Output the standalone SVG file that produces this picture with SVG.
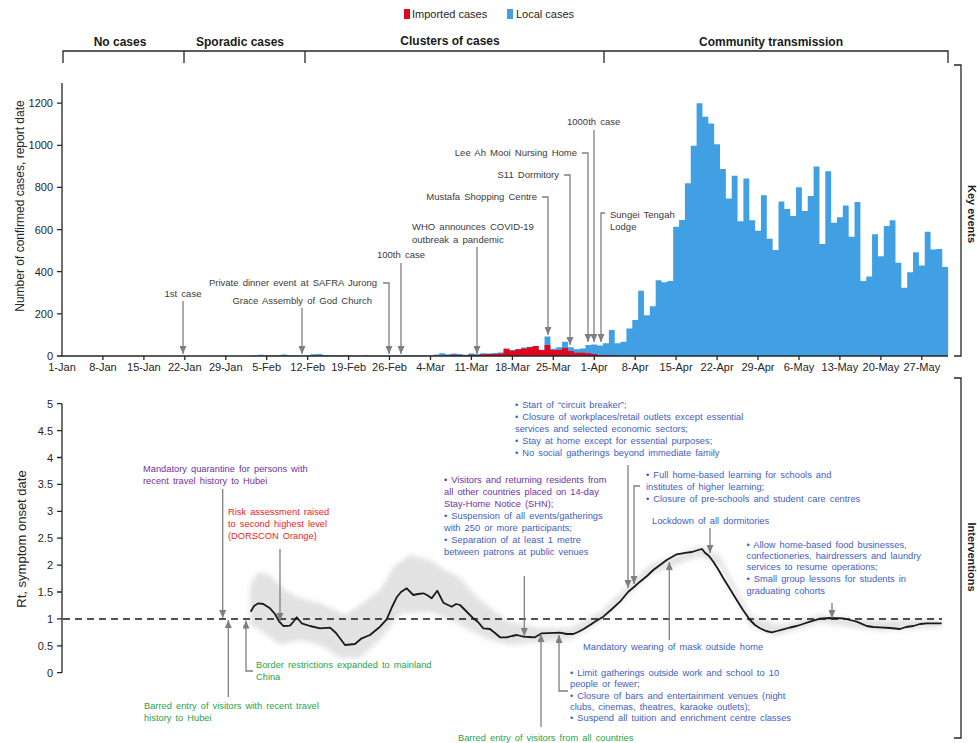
<svg xmlns="http://www.w3.org/2000/svg" width="977" height="743" viewBox="0 0 977 743">
  <defs>
    <marker id="ah" viewBox="0 0 8 7" refX="8" refY="3.5" markerWidth="8" markerHeight="7" markerUnits="userSpaceOnUse" orient="auto">
      <path d="M0,0 L8,3.5 L0,7 z" fill="#7f7f7f"/>
    </marker>
    <filter id="soft" x="-10%" y="-30%" width="120%" height="160%">
      <feGaussianBlur stdDeviation="2.5"/>
    </filter>
    <style>
      text { font-family: "Liberation Sans", Arial, sans-serif; }
      .tick { font-size: 11px; fill: #262626; }
      .axl { font-size: 12px; fill: #262626; }
      .phase { font-size: 12px; font-weight: bold; fill: #1a1a1a; }
      .side { font-size: 11px; font-weight: bold; fill: #1a1a1a; }
      .ann { font-size: 9.5px; fill: #3a3a3a; word-spacing: 1.5px; }
      .b { font-size: 9.3px; }
      .pur { fill: #7030a0; }
      .red { fill: #ee1c25; }
      .grn { fill: #1fa34a; }
      .blu { fill: #4160c0; }
      .axis { stroke: #262626; stroke-width: 1.3; fill: none; }
      .arr { stroke: #7f7f7f; stroke-width: 1.3; fill: none; marker-end: url(#ah); }
    </style>
  </defs>
  <rect width="977" height="743" fill="#ffffff"/>

  <!-- legend -->
  <g id="legend">
    <rect x="404" y="9" width="6" height="10" fill="#e3051b"/>
    <text x="412" y="18" class="tick">Imported cases</text>
    <rect x="507" y="9" width="6" height="10" fill="#41a0e4"/>
    <text x="516" y="18" class="tick">Local cases</text>
  </g>

  <!-- epidemic phases -->
  <g id="phases">
    <path class="axis" d="M63,63 V51 H948 V63 M184,51 V63 M305,51 V63 M604,51 V63"/>
    <text x="120" y="46" class="phase" text-anchor="middle">No cases</text>
    <text x="240" y="46" class="phase" text-anchor="middle">Sporadic cases</text>
    <text x="450" y="45" class="phase" text-anchor="middle">Clusters of cases</text>
    <text x="771" y="46" class="phase" text-anchor="middle">Community transmission</text>
  </g>

  <!-- side brackets -->
  <g id="brackets">
    <path class="axis" d="M954,65 H961 V356 H954"/>
    <text class="side" transform="translate(968,214) rotate(90)" text-anchor="middle">Key events</text>
    <path class="axis" d="M954,378 H961 V738 H954"/>
    <text class="side" transform="translate(968,557) rotate(90)" text-anchor="middle">Interventions</text>
  </g>

  <!-- daily cases chart -->
  <g id="cases-chart">
    <g transform="translate(59.0755,356) scale(5.849,-0.2107)">
      <path fill="#41a0e4" d="M33,0V2H34V6H35V4H36V2H37V3H38V7H39V3H40V3H41V2H42V3H43V8H44V9H45V5H46V3H47V2H48V4H49V3H50V1H51V1H52V3H53V1H54V1H55V1H56V2H57V3H58V2H59V4H60V4H61V2H62V2H63V2H64V7H65V13H66V8H67V12H68V10H69V6H70V12H71V9H72V13H73V12H74V14H75V17H76V35H77V28H78V32H79V40H80V44H81V47H82V30H83V92H84V35H85V41H86V68H87V41H88V32H89V36H90V52H91V55H92V50H93V60H94V123H95V60H96V68H97V130H98V171H99V310H100V193H101V236H102V359H103V350H104V356H105V614H106V646H107V820H108V998H109V1199H110V1136H111V1104H112V1005H113V888H114V747H115V856H116V639H117V843H118V644H119V595H120V763H121V557H122V503H123V733H124V698H125V665H126V801H127V688H128V759H129V899H130V532H131V877H132V633H133V658H134V714H135V566H136V731H137V356H138V377H139V578H140V473H141V617H142V644H143V443H144V324H145V397H146V492H147V429H148V590H149V505H150V508H151V422H152V0Z"/>
      <path fill="#e3051b" d="M66,0V4H67V6H68V5H69V3H70V6H71V5H72V8H73V9H74V10H75V12H76V35H77V25H78V32H79V36H80V41H81V47H82V28H83V52H84V28H85V28H86V38H87V24H88V16H89V16H90V13H91V9H92V5H93V4H94V2H95V1H96V0Z"/>
    </g>
    <path class="axis" d="M62,83 V356 H948"/>
    <path class="axis" d="M57,356H62 M57,313.9H62 M57,271.7H62 M57,229.6H62 M57,187.4H62 M57,145.3H62 M57,103.2H62"/>
    <path class="axis" d="M102.9,356V360 M143.9,356V360 M184.8,356V360 M225.8,356V360 M266.7,356V360 M307.7,356V360 M348.6,356V360 M389.5,356V360 M430.5,356V360 M471.4,356V360 M512.4,356V360 M553.3,356V360 M594.3,356V360 M635.2,356V360 M676.1,356V360 M717.1,356V360 M758,356V360 M799,356V360 M839.9,356V360 M880.9,356V360 M921.8,356V360"/>
    <g class="tick" text-anchor="end">
      <text x="53" y="360">0</text>
      <text x="53" y="317.9">200</text>
      <text x="53" y="275.7">400</text>
      <text x="53" y="233.6">600</text>
      <text x="53" y="191.4">800</text>
      <text x="53" y="149.3">1000</text>
      <text x="53" y="107.2">1200</text>
    </g>
    <g class="tick" text-anchor="middle">
      <text x="62" y="371">1-Jan</text>
      <text x="102.9" y="371">8-Jan</text>
      <text x="143.9" y="371">15-Jan</text>
      <text x="184.8" y="371">22-Jan</text>
      <text x="225.8" y="371">29-Jan</text>
      <text x="266.7" y="371">5-Feb</text>
      <text x="307.7" y="371">12-Feb</text>
      <text x="348.6" y="371">19-Feb</text>
      <text x="389.5" y="371">26-Feb</text>
      <text x="430.5" y="371">4-Mar</text>
      <text x="471.4" y="371">11-Mar</text>
      <text x="512.4" y="371">18-Mar</text>
      <text x="553.3" y="371">25-Mar</text>
      <text x="594.3" y="371">1-Apr</text>
      <text x="635.2" y="371">8-Apr</text>
      <text x="676.1" y="371">15-Apr</text>
      <text x="717.1" y="371">22-Apr</text>
      <text x="758" y="371">29-Apr</text>
      <text x="799" y="371">6-May</text>
      <text x="839.9" y="371">13-May</text>
      <text x="880.9" y="371">20-May</text>
      <text x="921.8" y="371">27-May</text>
    </g>
    <text class="axl" transform="translate(24,206) rotate(-90)" text-anchor="middle">Number of confirmed cases, report date</text>
  </g>

  <!-- key event labels -->
  <g id="key-events" class="ann">
    <text x="183" y="297" text-anchor="middle">1st case</text>
    <text x="377" y="286" text-anchor="end">Private dinner event at SAFRA Jurong</text>
    <text x="372" y="304" text-anchor="end">Grace Assembly of God Church</text>
    <text x="401" y="258" text-anchor="middle">100th case</text>
    <text x="412" y="230">WHO announces COVID-19</text>
    <text x="412" y="243">outbreak a pandemic</text>
    <text x="537" y="200" text-anchor="end">Mustafa Shopping Centre</text>
    <text x="559" y="178" text-anchor="end">S11 Dormitory</text>
    <text x="577" y="156" text-anchor="end">Lee Ah Mooi Nursing Home</text>
    <text x="567" y="125">1000th case</text>
    <text x="610" y="218">Sungei Tengah</text>
    <text x="610" y="230">Lodge</text>
  </g>

  <!-- Rt chart -->
  <g id="rt-chart">
    <path fill="#e2e2e2" filter="url(#soft)" d="M250,585 L258,572 L270,575 L285,590 L300,598 L320,603 L345,615 L360,605 L380,590 L395,565 L410,555 L430,560 L445,570 L460,578 L475,595 L490,608 L510,622 L540,628 L570,628 L600,612 L650,565 L700,546 L720,556 L750,615 L780,625 L820,615 L860,620 L942,620 L942,627 L880,631 L820,623 L775,636 L750,626 L720,566 L700,556 L650,575 L600,622 L570,640 L540,642 L510,645 L490,640 L470,630 L450,620 L430,612 L400,614 L380,640 L360,658 L340,658 L320,645 L300,640 L280,645 L260,630 L250,625 Z"/>
    <path class="axis" d="M62,403.7 V672.7"/>
    <path class="axis" d="M57,403.7H62 M57,430.6H62 M57,457.5H62 M57,484.4H62 M57,511.3H62 M57,538.2H62 M57,565.1H62 M57,592H62 M57,618.9H62 M57,645.8H62 M57,672.7H62"/>
    <g class="tick" text-anchor="end">
      <text x="53" y="407.7">5</text>
      <text x="53" y="434.6">4.5</text>
      <text x="53" y="461.5">4</text>
      <text x="53" y="488.4">3.5</text>
      <text x="53" y="515.3">3</text>
      <text x="53" y="542.2">2.5</text>
      <text x="53" y="569.1">2</text>
      <text x="53" y="596">1.5</text>
      <text x="53" y="622.9">1</text>
      <text x="53" y="649.8">0.5</text>
      <text x="53" y="676.7">0</text>
    </g>
    <text class="axl" style="font-size:13px" transform="translate(26,539) rotate(-90)" text-anchor="middle">Rt, symptom onset date</text>
    <line x1="63" y1="619" x2="942" y2="619" stroke="#1a1a1a" stroke-width="1.3" stroke-dasharray="7,5"/>
    <polyline fill="none" stroke="#1a1a1a" stroke-width="1.8" stroke-linejoin="round" points="250.7,611.7 254,606 258.3,603.3 263.3,604 270,608.3 275,614 279.3,621.7 283.3,626 290,625.7 294,621 296.7,617.3 299,620 301.7,623.3 310,626 320,628.3 330,627.7 336,633 345,645 355,644 361.7,638.3 370,635 380,626.7 386.7,619.3 392,607 396.7,597.3 401,592 406.7,588.3 413.3,595 418,594 423.3,593.3 427,595 431.7,598.3 437.3,590.7 443.3,602.7 451.7,606.7 456,604 460,605 466,611 473.3,618.3 478,622 483.3,628.3 490,629 495,633 500,637.3 506.7,637.3 512,636 516.7,635 523.3,636.7 529,637 535,637.3 541.7,633.3 560,632.7 566.7,634 573.3,634 578,632 583.3,629.3 590,625 596,621 603.3,616.7 612,609 620,601.7 628.3,591.7 634,587 640,581.7 647,576 653.3,570 660,565 666.7,560 676.7,554.3 686.7,552.7 692,552 698.3,550 702,549 705,552.7 709,556 713.3,561.7 718,569 723.3,578.3 730,589 736.7,600 743,610 750,620 755,625 760,628.3 766,631 771.7,632.3 777,631 783.3,629.3 790,627.5 796.7,626 803,624 810,621.7 820,618.7 830,618 843.3,618.3 850,620 856.7,621.7 866.7,626 873,627 880,627.3 890,628 900,629 906,627 913.3,626 920,624 926.7,623.3 941.7,623.3"/>
  </g>

  <!-- intervention labels -->
  <g id="interventions" class="ann b">
    <text class="pur" x="143" y="472">Mandatory quarantine for persons with</text>
    <text class="pur" x="143" y="484">recent travel history to Hubei</text>
    <text class="red" x="228" y="515">Risk assessment raised</text>
    <text class="red" x="228" y="527">to second highest level</text>
    <text class="red" x="228" y="539">(DORSCON Orange)</text>
    <text class="grn" x="144" y="709">Barred entry of visitors with recent travel</text>
    <text class="grn" x="144" y="720.5">history to Hubei</text>
    <text class="grn" x="256" y="668">Border restrictions expanded to mainland</text>
    <text class="grn" x="256" y="680">China</text>
    <text class="pur" x="444" y="483.3">• Visitors and returning residents from</text>
    <text class="pur" x="444" y="495.2">all other countries placed on 14-day</text>
    <text class="pur" x="444" y="507.1">Stay-Home Notice (SHN);</text>
    <text class="blu" x="444" y="519">• Suspension of all events/gatherings</text>
    <text class="blu" x="444" y="530.9">with 250 or more participants;</text>
    <text class="blu" x="444" y="542.8">• Separation of at least 1 metre</text>
    <text class="blu" x="444" y="554.7">between patrons at public venues</text>
    <text class="grn" x="458" y="741">Barred entry of visitors from all countries</text>
    <text class="blu" x="570" y="676">• Limit gatherings outside work and school to 10</text>
    <text class="blu" x="570" y="687.3">people or fewer;</text>
    <text class="blu" x="570" y="698.6">• Closure of bars and entertainment venues (night</text>
    <text class="blu" x="570" y="709.9">clubs, cinemas, theatres, karaoke outlets);</text>
    <text class="blu" x="570" y="721.2">• Suspend all tuition and enrichment centre classes</text>
    <text class="blu" x="583" y="650">Mandatory wearing of mask outside home</text>
    <text class="blu" x="515" y="408.3">• Start of “circuit breaker”;</text>
    <text class="blu" x="515" y="420.1">• Closure of workplaces/retail outlets except essential</text>
    <text class="blu" x="515" y="431.9">services and selected economic sectors;</text>
    <text class="blu" x="515" y="443.7">• Stay at home except for essential purposes;</text>
    <text class="blu" x="515" y="455.5">• No social gatherings beyond immediate family</text>
    <text class="blu" x="646" y="478.3">• Full home-based learning for schools and</text>
    <text class="blu" x="646" y="490">institutes of higher learning;</text>
    <text class="blu" x="646" y="501.7">• Closure of pre-schools and student care centres</text>
    <text class="blu" x="652" y="524.3">Lockdown of all dormitories</text>
    <text class="blu" x="746.5" y="547.5">• Allow home-based food businesses,</text>
    <text class="blu" x="746.5" y="558.8">confectioneries, hairdressers and laundry</text>
    <text class="blu" x="746.5" y="570.1">services to resume operations;</text>
    <text class="blu" x="746.5" y="582.3">• Small group lessons for students in</text>
    <text class="blu" x="746.5" y="593.6">graduating cohorts</text>
  </g>

  <!-- pointer arrows -->
  <g id="connectors">
    <polyline class="arr" points="183,301 183,354"/>
    <polyline class="arr" points="383,283 389,283 389,354"/>
    <polyline class="arr" points="302,308 302,354"/>
    <polyline class="arr" points="401,263 401,354"/>
    <polyline class="arr" points="477,247 477,354"/>
    <polyline class="arr" points="542,197 548,197 548,335"/>
    <polyline class="arr" points="564,175 570,175 570,345"/>
    <polyline class="arr" points="582,153 588,153 588,342"/>
    <polyline class="arr" points="594,130 594,342"/>
    <polyline class="arr" points="605,213 601,213 601,342"/>

    <polyline class="arr" points="222.7,489 222.7,618"/>
    <polyline class="arr" points="280,549 280,621"/>
    <polyline class="arr" points="228.3,697 228.3,620"/>
    <polyline class="arr" points="253,671 246,671 246,620.5"/>
    <polyline class="arr" points="524.3,576 524.3,636"/>
    <polyline class="arr" points="541,727 541,634"/>
    <polyline class="arr" points="568,691 559,691 559,635"/>
    <polyline class="arr" points="669.3,640 669.3,562"/>
    <polyline class="arr" points="628,465 628,588"/>
    <polyline class="arr" points="640,486 634,486 634,584"/>
    <polyline class="arr" points="710,528 710,553"/>
    <polyline class="arr" points="832,603 832,618"/>
  </g>
</svg>
